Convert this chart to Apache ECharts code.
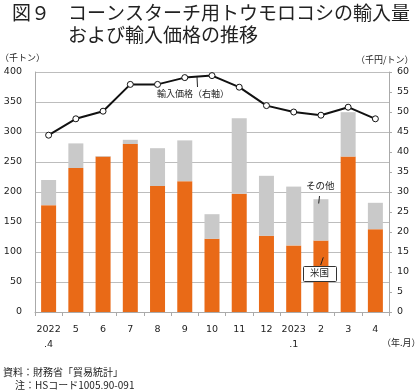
<!DOCTYPE html>
<html><head><meta charset="utf-8">
<script src="https://cdn.jsdelivr.net/npm/echarts@6/dist/echarts.min.js"></script>
<style>html,body{margin:0;padding:0;background:#fff}#c{width:420px;height:392px}</style>
</head><body><div id="c"></div>
<script>
const categories = ['2022\n.4','5','6','7','8','9','10','11','12','2023\n.1','2','3','4'];
const usValues = [178,240,259,280,210,218,122,197,127,111,119,259,138];
const totalValues = [220,281,260,287,273,286,163,323,227,209,188,333,182];
const otherValues = totalValues.map((t,i)=>t-usValues[i]);
const priceValues = [44.2,48.3,50.2,56.9,56.9,58.6,59.1,56.2,51.6,50.0,49.2,51.2,48.3];
const leftTicks = [0,400,50];
const rightTicks = [0,60,5];

const jp = '"Noto Sans CJK JP", sans-serif';
const num = '"DejaVu Sans", Verdana, sans-serif';
const chart = echarts.init(document.getElementById('c'));
chart.setOption({
  animation:false,
  grid:{left:35,right:31,top:72,bottom:80},
  xAxis:{type:'category',data:categories,
    axisLine:{lineStyle:{color:'#aaa'}},
    axisTick:{show:true,lineStyle:{color:'#aaa'},length:4},
    axisLabel:{interval:0,color:'#222',fontFamily:num,fontSize:9.5,lineHeight:15,margin:10}},
  yAxis:[
    {type:'value',min:leftTicks[0],max:leftTicks[1],interval:leftTicks[2],
     axisLine:{show:true,lineStyle:{color:'#aaa'}},axisTick:{show:false},
     splitLine:{lineStyle:{color:'#bdbdbd'}},
     axisLabel:{color:'#222',fontFamily:num,fontSize:9.5,margin:13}},
    {type:'value',min:rightTicks[0],max:rightTicks[1],interval:rightTicks[2],position:'right',
     axisLine:{show:true,lineStyle:{color:'#aaa'}},axisTick:{show:true,length:3,lineStyle:{color:'#aaa'}},
     splitLine:{show:false},
     axisLabel:{color:'#222',fontFamily:num,fontSize:9.5,margin:8}}
  ],
  series:[
    {type:'bar',stack:'a',data:usValues,barWidth:15,itemStyle:{color:'#E96A17'}},
    {type:'bar',stack:'a',data:otherValues,barWidth:15,itemStyle:{color:'#C9C9C9'}},
    {type:'line',yAxisIndex:1,data:priceValues,symbol:'circle',symbolSize:6,z:5,
     lineStyle:{color:'#111',width:2},itemStyle:{color:'#fff',borderColor:'#111',borderWidth:1}}
  ],
  graphic:[
    {type:'text',left:12,top:3,z:100,style:{text:'図９',font:'19px '+jp,fill:'#222'}},
    {type:'text',left:68,top:3,z:100,style:{text:'コーンスターチ用トウモロコシの輸入量',font:'19px '+jp,fill:'#222'}},
    {type:'text',left:68,top:25,z:100,style:{text:'および輸入価格の推移',font:'19px '+jp,fill:'#222'}},
    {type:'text',left:0,top:53,z:100,style:{text:'（千トン）',font:'9px '+jp,fill:'#222'}},
    {type:'text',left:356,top:55,z:100,style:{text:'（千円/トン）',font:'9px '+jp,fill:'#222'}},
    {type:'text',left:382,top:338,z:100,style:{text:'（年.月）',font:'9px '+jp,fill:'#222'}},
    {type:'text',left:157,top:89,z:100,style:{text:'輸入価格（右軸）',font:'9px '+jp,fill:'#222'}},
    {type:'line',z:100,shape:{x1:197,y1:77,x2:197.5,y2:87},style:{stroke:'#222',lineWidth:1}},
    {type:'text',left:306,top:181,z:100,style:{text:'その他',font:'9.5px '+jp,fill:'#222'}},
    {type:'line',z:100,shape:{x1:319.5,y1:196,x2:318.7,y2:203.5},style:{stroke:'#222',lineWidth:1}},
    {type:'rect',z:100,shape:{x:303.5,y:266.5,width:33,height:15,r:1},style:{fill:'#fff',stroke:'#333',lineWidth:1}},
    {type:'text',left:310,top:268,z:101,style:{text:'米国',font:'9.5px '+jp,fill:'#222'}},
    {type:'line',z:100,shape:{x1:320.7,y1:265,x2:323.3,y2:257.3},style:{stroke:'#222',lineWidth:1}},
    {type:'text',left:3,top:367,z:100,style:{text:'資料：財務省「貿易統計」',font:'10px '+jp,fill:'#222'}},
    {type:'text',left:15,top:380,z:100,style:{text:'注：HSコード1005.90-091',font:'10px '+jp,fill:'#222'}}
  ]
});
</script></body></html>
